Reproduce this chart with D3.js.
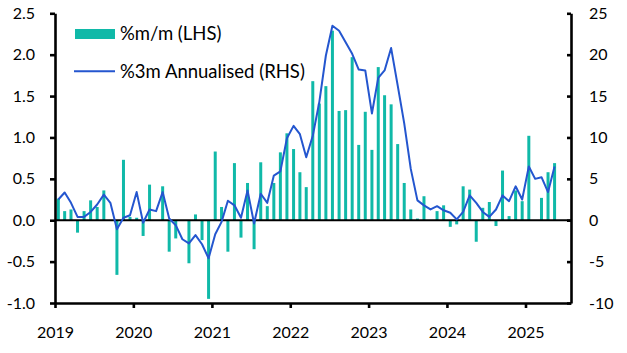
<!DOCTYPE html>
<html>
<head>
<meta charset="utf-8">
<script src="https://cdn.jsdelivr.net/npm/d3@7"></script>
<style>
  html, body { margin: 0; padding: 0; background: #ffffff; }
  svg { display: block; }
  text { font-family: Lato, "Open Sans", sans-serif; fill: #000; }
</style>
</head>
<body>
<svg id="chart" width="627" height="353"></svg>
<script>
// ---- Data (monthly, Jan 2019 .. May 2025) ----
const startMonth = "2019-01";
const momLHS = [
  0.26, 0.11, 0.13, -0.15, 0.11, 0.24, 0.16, 0.36, 0.00, -0.66, 0.73, 0.04,
  0.03, -0.19, 0.43, 0.00, 0.41, -0.38, -0.22, 0.00, -0.52, 0.07, -0.24, -0.95,
  0.83, 0.16, -0.38, 0.69, -0.21, 0.45, -0.35, 0.70, 0.17, 0.45, 0.82, 1.05,
  0.86, 0.58, 0.40, 1.68, 1.41, 1.62, 2.29, 1.32, 1.33, 1.97, 0.91, 1.31,
  0.85, 1.85, 1.51, 1.40, 0.92, 0.45, 0.13, 0.02, 0.29, 0.00, 0.11, 0.18,
  -0.08, -0.05, 0.41, 0.37, -0.26, 0.15, 0.22, -0.07, 0.60, 0.05, 0.36, 0.23,
  1.02, 0.00, 0.27, 0.58, 0.69
];
const ann3mRHS = [
  2.5, 3.35, 2.1, 0.4, 0.4, 1.0, 1.9, 3.1, 2.1, -1.1, 0.3, 0.6,
  3.4, -0.3, 1.3, 1.1, 3.4, 0.2, -0.6, -2.3, -2.8, -1.8, -2.9, -4.6,
  -1.7, -0.2, 2.35, 1.8, 0.3, 3.6, -0.4, 3.2, 2.1, 5.4, 5.9, 9.9,
  11.4, 10.4, 7.6, 10.2, 14.3, 19.9, 23.5, 22.9, 21.5, 20.1, 18.2, 18.1,
  12.9, 17.2, 18.1, 20.8, 16.3, 11.7, 6.2, 2.4, 1.8, 1.3, 1.7, 1.2,
  0.9, 0.1, 1.0, 3.0, 2.1, 1.0, 0.4, 1.3, 3.0, 2.3, 4.1, 2.5,
  6.5, 5.0, 5.2, 3.4, 6.5
];
const yearTicks = ["2019", "2020", "2021", "2022", "2023", "2024", "2025"];
const leftTicks = [-1.0, -0.5, 0.0, 0.5, 1.0, 1.5, 2.0, 2.5];
const rightTicks = [-10, -5, 0, 5, 10, 15, 20, 25];
const seriesNames = ["%m/m (LHS)", "%3m Annualised (RHS)"];

// ---- Setup ----
const svg = d3.select("#chart");
const W = 627, H = 353;
const m = { left: 55, right: 56, top: 13.3, bottom: 50 };
const x0 = m.left, x1 = W - m.right, yTop = m.top, yBot = 303;
const barColor = "#10b9a8";
const lineColor = "#2456cf";

const parse = d3.timeParse("%Y-%m");
const t0 = parse(startMonth);
const months = momLHS.map((_, i) => d3.timeMonth.offset(t0, i));
const mid = d => new Date((d.getTime() + d3.timeMonth.offset(d, 1).getTime()) / 2);

const x = d3.scaleTime()
  .domain([t0, d3.timeMonth.offset(t0, 79)])
  .range([x0, x1]);
const yL = d3.scaleLinear().domain([-1, 2.5]).range([yBot, yTop]);
const yR = d3.scaleLinear().domain([-10, 25]).range([yBot, yTop]);

const step = x(d3.timeMonth.offset(t0, 1)) - x(t0);
const bw = step * 0.45;

// Bars
svg.append("g").selectAll("rect")
  .data(momLHS.map((v, i) => ({ d: months[i], v })))
  .join("rect")
  .attr("x", d => x(mid(d.d)) - bw / 2)
  .attr("width", bw)
  .attr("y", d => yL(Math.max(0, d.v)))
  .attr("height", d => Math.abs(yL(d.v) - yL(0)))
  .attr("fill", barColor);

// Zero line
svg.append("line")
  .attr("x1", x0).attr("x2", x1)
  .attr("y1", yL(0)).attr("y2", yL(0))
  .attr("stroke", "#000").attr("stroke-width", 2.2);

// Line
const line = d3.line()
  .x(d => x(mid(d.d)))
  .y(d => yR(d.v));
svg.append("path")
  .datum(ann3mRHS.map((v, i) => ({ d: months[i], v })))
  .attr("d", line)
  .attr("fill", "none")
  .attr("stroke", lineColor)
  .attr("stroke-width", 2)
  .attr("stroke-linejoin", "round");

// Axes
const fmtL = v => (v < 0 ? "-" : "") + Math.abs(v).toFixed(1);
const fmtR = v => (v < 0 ? "-" : "") + Math.abs(v);

const gL = svg.append("g").attr("transform", `translate(${x0},0)`)
  .call(d3.axisLeft(yL).tickValues(leftTicks).tickFormat(fmtL).tickSize(5).tickPadding(15).tickSizeOuter(0));
const gR = svg.append("g").attr("transform", `translate(${x1},0)`)
  .call(d3.axisRight(yR).tickValues(rightTicks).tickFormat(fmtR).tickSize(-4).tickPadding(18).tickSizeOuter(0));
const gX = svg.append("g").attr("transform", `translate(0,${yBot})`)
  .call(d3.axisBottom(x)
    .tickValues(yearTicks.map(s => d3.timeParse("%Y")(s)))
    .tickFormat(d3.timeFormat("%Y"))
    .tickSize(5).tickPadding(19).tickSizeOuter(0));

[gL, gR, gX].forEach(g => {
  g.select(".domain").attr("stroke", "#000").attr("stroke-width", 2.6);
  g.selectAll(".tick line").attr("stroke", "#000").attr("stroke-width", 2.6);
  g.selectAll(".tick text").attr("font-size", 16).attr("font-family", "Lato, sans-serif").attr("fill", "#000");
});
gR.selectAll(".tick text").attr("text-anchor", "start");

// Legend
const lg = svg.append("g");
lg.append("rect").attr("x", 75).attr("y", 29).attr("width", 40).attr("height", 10).attr("fill", barColor);
lg.append("text").attr("x", 120).attr("y", 40).attr("font-size", 18.5).text(seriesNames[0]);
lg.append("line").attr("x1", 74).attr("x2", 115).attr("y1", 71.3).attr("y2", 71.3)
  .attr("stroke", lineColor).attr("stroke-width", 2);
lg.append("text").attr("x", 120).attr("y", 77.5).attr("font-size", 18.5).text(seriesNames[1]);
</script>
</body>
</html>
